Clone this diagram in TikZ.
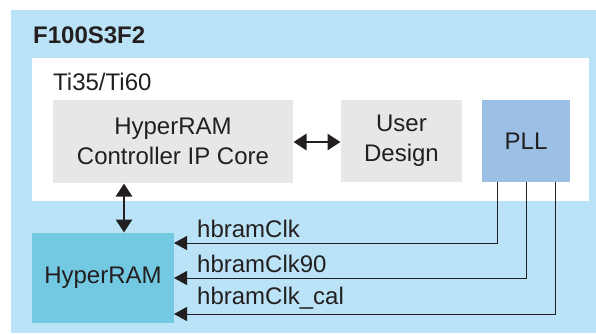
\documentclass[tikz,border=0pt]{standalone}
\usepackage{fontspec}
\setmainfont{Liberation Sans}
\usetikzlibrary{arrows.meta,calc}
\definecolor{outerblue}{HTML}{BAE3F7}
\definecolor{ramblue}{HTML}{74C9E2}
\definecolor{pllblue}{HTML}{9BBFE5}
\definecolor{boxgray}{HTML}{E6E7E8}
\definecolor{ink}{HTML}{231F20}
\tikzset{
  region/.style={draw=none, inner sep=0pt, outer sep=0pt, anchor=north west},
  blk/.style={draw=none, inner sep=0pt, outer sep=0pt, anchor=north west, align=center, text=ink,
    font=\fontsize{24}{30}\selectfont},
  lbl/.style={inner sep=0pt, anchor=base west, text=ink, font=\fontsize{24}{30}\selectfont},
  biarrow/.style={draw=ink, line width=2.8pt, {Triangle[length=13pt,width=16pt]}-{Triangle[length=13pt,width=16pt]}, shorten <=0.5pt, shorten >=0.5pt},
  clk/.style={draw=ink, line width=1pt, -{Triangle[length=13pt,width=14pt]}}
}
\begin{document}
\begin{tikzpicture}[x=1pt,y=-1pt]
\useasboundingbox (0,0) rectangle (596,333);
\node[region, fill=outerblue, minimum width=585pt, minimum height=323pt] (outer) at (11,10) {};
\node[region, fill=white, minimum width=557pt, minimum height=143pt] (inner) at (32,58) {};
\node[lbl, font=\fontsize{24}{30}\selectfont\bfseries] (title) at (33,43) {F100S3F2};
\node[lbl] (chip) at (53,90) {Ti35/Ti60};
\node[blk, fill=boxgray, minimum width=240pt, minimum height=83pt] (ctrl) at (53,100) {HyperRAM\\Controller IP Core};
\node[blk, fill=boxgray, minimum width=121pt, minimum height=82pt] (user) at (341,100) {User\\Design};
\node[blk, fill=pllblue, minimum width=88pt, minimum height=82pt] (pll) at (482,100) {PLL};
\node[blk, fill=ramblue, minimum width=142pt, minimum height=90pt] (ram) at (32,233) {HyperRAM};
\draw[biarrow] (ctrl.east |- 0,142) -- (user.west |- 0,142);
\draw[biarrow] (ctrl.south -| 124,0) -- (ram.north -| 124,0);
\node[lbl] (l1) at (197,237) {hbramClk};
\node[lbl] (l2) at (197,272) {hbramClk90};
\node[lbl] (l3) at (197,304) {hbramClk\_cal};
\draw[clk] (pll.south -| 497,0) |- (ram.east |- 0,243);
\draw[clk] (pll.south -| 526,0) |- (ram.east |- 0,278);
\draw[clk] (pll.south -| 555,0) |- (ram.east |- 0,314);
\end{tikzpicture}
\end{document}
